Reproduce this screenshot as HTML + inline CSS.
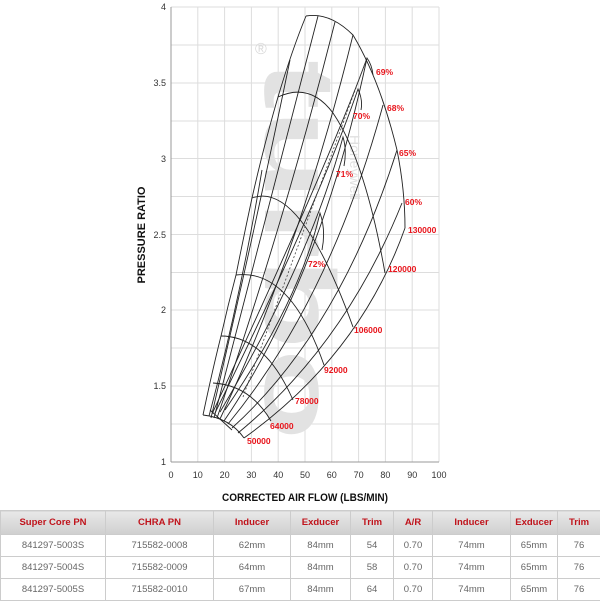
<!DOCTYPE html>
<html><head><meta charset="utf-8"><style>
body{margin:0;width:600px;height:600px;background:#fff;overflow:hidden;font-family:"Liberation Sans",sans-serif}
table{position:absolute;left:0;top:510px;width:600px;border-collapse:collapse;font-size:9.5px;color:#666;table-layout:fixed}
td,th{border:1px solid #ccc;text-align:center;height:21px;padding:0}
th{background:linear-gradient(#e8e8e8,#cfcfcf);color:#c0131b;font-weight:bold;height:23px}
</style></head><body>
<svg width="600" height="510" style="position:absolute;left:0;top:0" font-family="Liberation Sans, sans-serif">
<g stroke="#ddd" stroke-width="1">
<line x1="197.8" y1="7" x2="197.8" y2="462"/><line x1="224.6" y1="7" x2="224.6" y2="462"/><line x1="251.4" y1="7" x2="251.4" y2="462"/><line x1="278.2" y1="7" x2="278.2" y2="462"/><line x1="305" y1="7" x2="305" y2="462"/><line x1="331.8" y1="7" x2="331.8" y2="462"/><line x1="358.6" y1="7" x2="358.6" y2="462"/><line x1="385.4" y1="7" x2="385.4" y2="462"/><line x1="412.2" y1="7" x2="412.2" y2="462"/><line x1="439" y1="7" x2="439" y2="462"/>
<line x1="171" y1="7" x2="439" y2="7"/><line x1="171" y1="45" x2="439" y2="45"/><line x1="171" y1="83" x2="439" y2="83"/><line x1="171" y1="121" x2="439" y2="121"/><line x1="171" y1="158.5" x2="439" y2="158.5"/><line x1="171" y1="196.5" x2="439" y2="196.5"/><line x1="171" y1="234.5" x2="439" y2="234.5"/><line x1="171" y1="272.5" x2="439" y2="272.5"/><line x1="171" y1="310" x2="439" y2="310"/><line x1="171" y1="348" x2="439" y2="348"/><line x1="171" y1="386" x2="439" y2="386"/><line x1="171" y1="424" x2="439" y2="424"/>
</g>
<line x1="171" y1="7" x2="171" y2="462" stroke="#999"/><line x1="171" y1="462" x2="439" y2="462" stroke="#999"/>
<text transform="translate(265,60) rotate(90)" font-size="100" font-weight="bold" fill="#e2e2e2" textLength="380" lengthAdjust="spacingAndGlyphs">turbo</text>
<text x="255" y="54" font-size="16" fill="#d9d9d9">®</text>
<text transform="translate(350,135) rotate(90)" font-size="14" fill="#e0e0e0">Honeywell</text>
<g font-size="9" fill="#333" text-anchor="end">
<text x="166" y="10">4</text><text x="166" y="86">3.5</text><text x="166" y="162">3</text><text x="166" y="238">2.5</text><text x="166" y="313">2</text><text x="166" y="389">1.5</text><text x="166" y="465">1</text></g>
<g font-size="9" fill="#333" text-anchor="middle">
<text x="171" y="478">0</text><text x="197.8" y="478">10</text><text x="224.6" y="478">20</text><text x="251.4" y="478">30</text><text x="278.2" y="478">40</text><text x="305" y="478">50</text><text x="331.8" y="478">60</text><text x="358.6" y="478">70</text><text x="385.4" y="478">80</text><text x="412.2" y="478">90</text><text x="439" y="478">100</text></g>
<text x="305" y="501" font-size="11" font-weight="bold" text-anchor="middle" fill="#111" textLength="166" lengthAdjust="spacingAndGlyphs">CORRECTED AIR FLOW (LBS/MIN)</text>
<text transform="translate(145,235) rotate(-90)" font-size="11" font-weight="bold" text-anchor="middle" fill="#111">PRESSURE RATIO</text>
<g fill="none" stroke="#222" stroke-width="0.9">
<path d="M203,415 Q212,372 221,336 Q228,305 236,275 Q244,235 252,198 Q264,145 278,97 Q292,50 306,16"/>
<path d="M203,415 Q230,418 244,438"/>
<path d="M213,383 Q250,385 271,421"/>
<path d="M221,336 Q265,336 293,400"/>
<path d="M236,275 Q290,268 324,365"/>
<path d="M252,198 Q300,180 353,327"/>
<path d="M278,97 Q310,82 333,113 Q365,160 385,273"/>
<path d="M306,16 Q330,12 353,35 Q380,80 397,150 Q405,190 405,228"/>
<path d="M244,438 Q360,355 405,228"/>
<path d="M238,433 Q345,345 402,203"/>
<path d="M232,428 Q340,330 397,150"/>
<path d="M228,424 Q330,300 383,105"/>
<path d="M224,421 Q320,280 367,58"/>
<path d="M220,419 Q300,250 353,35"/>
<path d="M217,418 Q285,220 335,22"/>
<path d="M214,418 Q270,200 318,16"/>
<path d="M211,418 Q255,230 290,60"/>
<path d="M209,416 Q240,300 262,170"/>
<path d="M225,410 Q300,300 320,213 Q326,230 322,250"/>
<path d="M220,412 Q310,260 343,137 Q347,150 344,166"/>
<path d="M215,413 Q320,200 358,89 Q363,100 361,110"/>
<path d="M212,414 Q330,160 367,58 Q372,65 373,75"/>
<path d="M210,410 L232,430"/>
</g>
<path d="M243,397 Q300,240 367,58" fill="none" stroke="#444" stroke-width="0.8" stroke-dasharray="2,2"/>
<g font-size="8.5" font-weight="bold" fill="#e8141b">
<text x="247" y="444">50000</text><text x="270" y="429">64000</text><text x="295" y="404">78000</text><text x="324" y="373">92000</text><text x="354" y="333">106000</text><text x="388" y="272">120000</text><text x="408" y="233">130000</text>
<text x="376" y="75">69%</text><text x="387" y="111">68%</text><text x="399" y="156">65%</text><text x="405" y="205">60%</text><text x="353" y="119">70%</text><text x="336" y="177">71%</text><text x="308" y="267">72%</text>
</g>
</svg>
<table>
<colgroup><col style="width:105px"><col style="width:108px"><col style="width:77px"><col style="width:60px"><col style="width:43px"><col style="width:39px"><col style="width:78px"><col style="width:47px"><col style="width:43px"></colgroup>
<tr><th>Super Core PN</th><th>CHRA PN</th><th>Inducer</th><th>Exducer</th><th>Trim</th><th>A/R</th><th>Inducer</th><th>Exducer</th><th>Trim</th></tr>
<tr><td>841297-5003S</td><td>715582-0008</td><td>62mm</td><td>84mm</td><td>54</td><td>0.70</td><td>74mm</td><td>65mm</td><td>76</td></tr>
<tr><td>841297-5004S</td><td>715582-0009</td><td>64mm</td><td>84mm</td><td>58</td><td>0.70</td><td>74mm</td><td>65mm</td><td>76</td></tr>
<tr><td>841297-5005S</td><td>715582-0010</td><td>67mm</td><td>84mm</td><td>64</td><td>0.70</td><td>74mm</td><td>65mm</td><td>76</td></tr>
</table>
</body></html>
